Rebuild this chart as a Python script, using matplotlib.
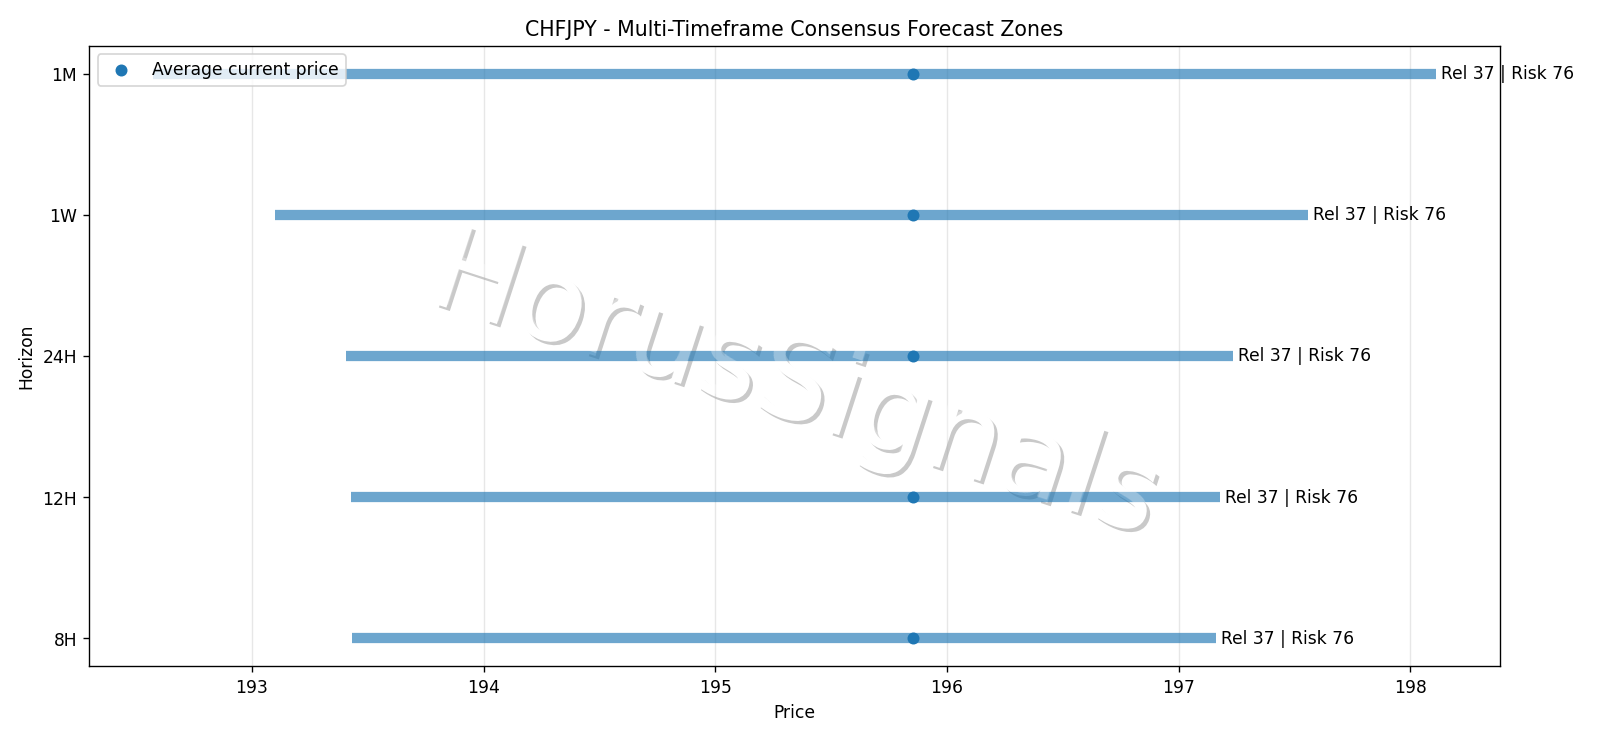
import matplotlib
matplotlib.use('Agg')
import matplotlib.pyplot as plt
import matplotlib.patheffects as pe

# ── Data ─────────────────────────────────────────────────────────────────────
horizons   = ['8H', '12H', '24H', '1W', '1M']
zone_low   = [193.432, 193.427, 193.405, 193.100, 192.573]
zone_high  = [197.160, 197.177, 197.234, 197.558, 198.111]
current    = [195.853, 195.853, 195.853, 195.853, 195.853]
rel_score  = [37, 37, 37, 37, 37]
risk_score = [76, 76, 76, 76, 76]

symbol = 'CHFJPY'

# ── Figure ───────────────────────────────────────────────────────────────────
fig, ax = plt.subplots(figsize=(13, 6), dpi=1600 / 13)
fig.subplots_adjust(left=89 / 1600, right=1500 / 1600,
                    top=1 - 46 / 738, bottom=1 - 666.5 / 738)

ypos = list(range(len(horizons)))

ax.hlines(ypos, zone_low, zone_high, color='C0', linewidth=6, alpha=0.65, zorder=2)
ax.scatter(current, ypos, color='C0', zorder=3, label='Average current price')

for y, hi, rel, risk in zip(ypos, zone_high, rel_score, risk_score):
    ax.annotate(f'Rel {rel} | Risk {risk}', xy=(hi, y), xytext=(3, 0),
                textcoords='offset points', va='center', ha='left', fontsize=10)

ax.set_yticks(ypos)
ax.set_yticklabels(horizons)
ax.set_xlabel('Price')
ax.set_ylabel('Horizon')
ax.set_title(f'{symbol} - Multi-Timeframe Consensus Forecast Zones')
ax.grid(axis='x', alpha=0.3)
ax.legend(loc='upper left')

# watermark: opaque base with shadow under the bars, light veil on top
wm = dict(transform=ax.transAxes, ha='center', va='center', rotation=-18,
          fontsize=68, color='white')
ax.text(0.5, 0.45, 'HorusSignals', zorder=1,
        path_effects=[pe.withSimplePatchShadow(offset=(2, -2))], **wm)
ax.text(0.5, 0.45, 'HorusSignals', zorder=4, alpha=0.3, **wm)

plt.savefig('out.png', dpi=1600 / 13)
plt.close()
